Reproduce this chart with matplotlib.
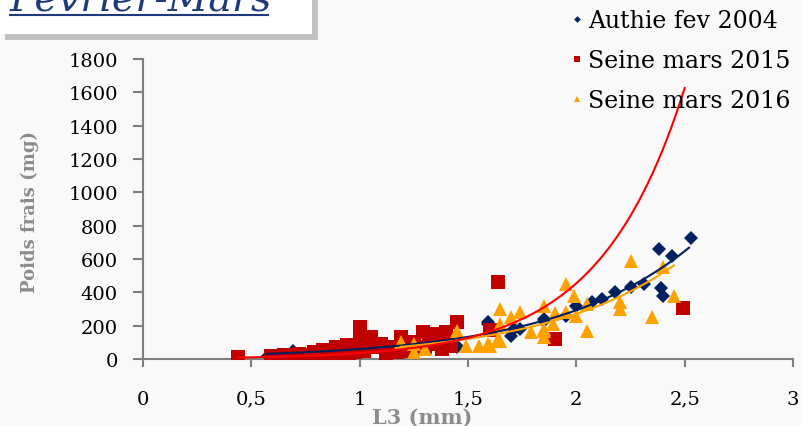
import numpy as np
import matplotlib.pyplot as plt
from matplotlib.patches import Rectangle
from matplotlib.lines import Line2D

plt.rcParams['font.family'] = ['DejaVu Serif']

# Authie fev 2004 (diamonds)
authie_x = [0.57, 0.60, 0.65, 0.69, 0.80, 0.90, 1.00, 1.10, 1.20, 1.33, 1.45, 1.45,
            1.59, 1.59, 1.70, 1.71, 1.74, 1.85, 1.85, 1.95, 2.00, 2.07, 2.12, 2.18,
            2.25, 2.31, 2.39, 2.40, 2.38, 2.44, 2.53]
authie_y = [10, 20, 15, 50, 35, 40, 50, 60, 70, 90, 80, 70,
            210, 220, 140, 180, 180, 230, 240, 260, 320, 340, 360, 400,
            434, 450, 424, 380, 660, 620, 724]

# Seine mars 2015 (squares)
seine15_x = [0.44, 0.59, 0.62, 0.65, 0.68, 0.70, 0.72, 0.75, 0.78, 0.79, 0.82, 0.83,
             0.85, 0.87, 0.89, 0.90, 0.92, 0.94, 0.95, 0.97, 0.98, 1.00, 1.00, 1.02,
             1.03, 1.05, 1.08, 1.10, 1.12, 1.13, 1.15, 1.17, 1.19, 1.22, 1.25, 1.27,
             1.29, 1.30, 1.32, 1.35, 1.37, 1.38, 1.40, 1.40, 1.42, 1.45, 1.60, 1.64,
             1.90, 2.49]
seine15_y = [10, 20, 15, 25, 20, 10, 30, 25, 15, 40, 30, 55,
             45, 25, 70, 20, 50, 85, 30, 60, 40, 190, 110, 50,
             90, 130, 70, 90, 30, 60, 70, 40, 130, 50, 100, 60,
             160, 70, 90, 150, 110, 60, 160, 100, 80, 222, 174, 464,
             120, 306]

# Seine mars 2016 (triangles)
seine16_x = [1.19, 1.25, 1.25, 1.30, 1.45, 1.49, 1.55, 1.59, 1.60, 1.64, 1.65, 1.65,
             1.65, 1.70, 1.74, 1.79, 1.85, 1.85, 1.85, 1.85, 1.89, 1.90, 1.95, 1.95,
             1.99, 2.00, 2.05, 2.05, 2.20, 2.20, 2.25, 2.35, 2.40, 2.45]
seine16_y = [100, 90, 40, 60, 167, 76, 80, 90, 80, 120, 110, 210,
             300, 250, 285, 160, 170, 130, 320, 180, 210, 275, 280, 450,
             380, 260, 330, 170, 340, 300, 590, 250, 550, 380]

# trend curves y = a * exp(k * x)
authie_fit = (12.3, 1.585, 0.57, 2.52)
seine15_fit = (2.77, 2.55, 0.44, 2.50)
seine16_fit = (10.6, 1.62, 1.19, 2.45)

x_ticks = [0, 0.5, 1, 1.5, 2, 2.5, 3]
x_labels = ['0', '0,5', '1', '1,5', '2', '2,5', '3']
y_ticks = [0, 200, 400, 600, 800, 1000, 1200, 1400, 1600, 1800]

blue = '#002060'
red = '#C00000'
orange = '#FFA200'
grey = '#7f7f7f'

fig = plt.figure(figsize=(8.02, 4.27), dpi=100, facecolor='#f9f9f9')
ax = fig.add_axes([143/802, 1-360/427, 650/802, 300/427])
ax.set_facecolor('none')

ax.plot(authie_x, authie_y, 'D', color=blue, ms=6.8, mew=0, label='Authie fev 2004', zorder=2)
ax.plot(seine15_x, seine15_y, 's', color=red, ms=9.4, mew=0, label='Seine mars 2015', zorder=3)
ax.plot(seine16_x, seine16_y, '^', color=orange, ms=10, mew=0, label='Seine mars 2016', zorder=4)

for (a, k, x0, x1), c in [(authie_fit, blue), (seine16_fit, orange), (seine15_fit, '#FF0000')]:
    xx = np.linspace(x0, x1, 200)
    ax.plot(xx, a*np.exp(k*xx), color=c, lw=1.5, zorder=5, clip_on=False)

ax.set_xlim(0, 3)
ax.set_ylim(0, 1800)
ax.set_xticks(x_ticks)
ax.set_xticklabels(x_labels)
ax.set_yticks(y_ticks)
for s in ['top', 'right']:
    ax.spines[s].set_visible(False)
for s in ['left', 'bottom']:
    ax.spines[s].set_color(grey)
    ax.spines[s].set_linewidth(1.5)
ax.tick_params(axis='x', length=6, width=1.5, color=grey, pad=16, labelsize=14)
ax.tick_params(axis='y', length=7, width=1.5, color=grey, pad=11, labelsize=14)

fig.text(30/802, 1-212/427, 'Poids frais (mg)', rotation=90, color='#8c8c8c',
         fontsize=13, fontweight='bold', ha='center', va='center')
fig.text(422/802, 1-424/427, 'L3 (mm)', color='#8c8c8c', fontsize=15,
         fontweight='bold', ha='center', va='baseline')

fig.legend(loc='upper left', bbox_to_anchor=(570/802, 1-10/427), frameon=False,
           fontsize=17, markerscale=0.5, handlelength=0.6, handletextpad=0.15,
           labelspacing=0.72, borderaxespad=0, borderpad=0)

# title box
fig.patches.append(Rectangle((5/802, 1-41/427), 313/802, 0.2, transform=fig.transFigure,
                             facecolor='#b4b4b4', edgecolor='none', alpha=0.8, zorder=0))
fig.patches.append(Rectangle((0, 1-35/427), 312/802, 0.2, transform=fig.transFigure,
                             facecolor='white', edgecolor='none', zorder=1))
title_c = '#1F3A7A'
fig.text(10/802, 1-12/427, 'Février-Mars', color=title_c, fontsize=28.5,
         style='italic', ha='left', va='baseline')
fig.lines.append(Line2D([10/802, 268/802], [1-16/427, 1-16/427], transform=fig.transFigure,
                        color=title_c, lw=1.5))

fig.savefig('out.png', dpi=100, facecolor=fig.get_facecolor())
